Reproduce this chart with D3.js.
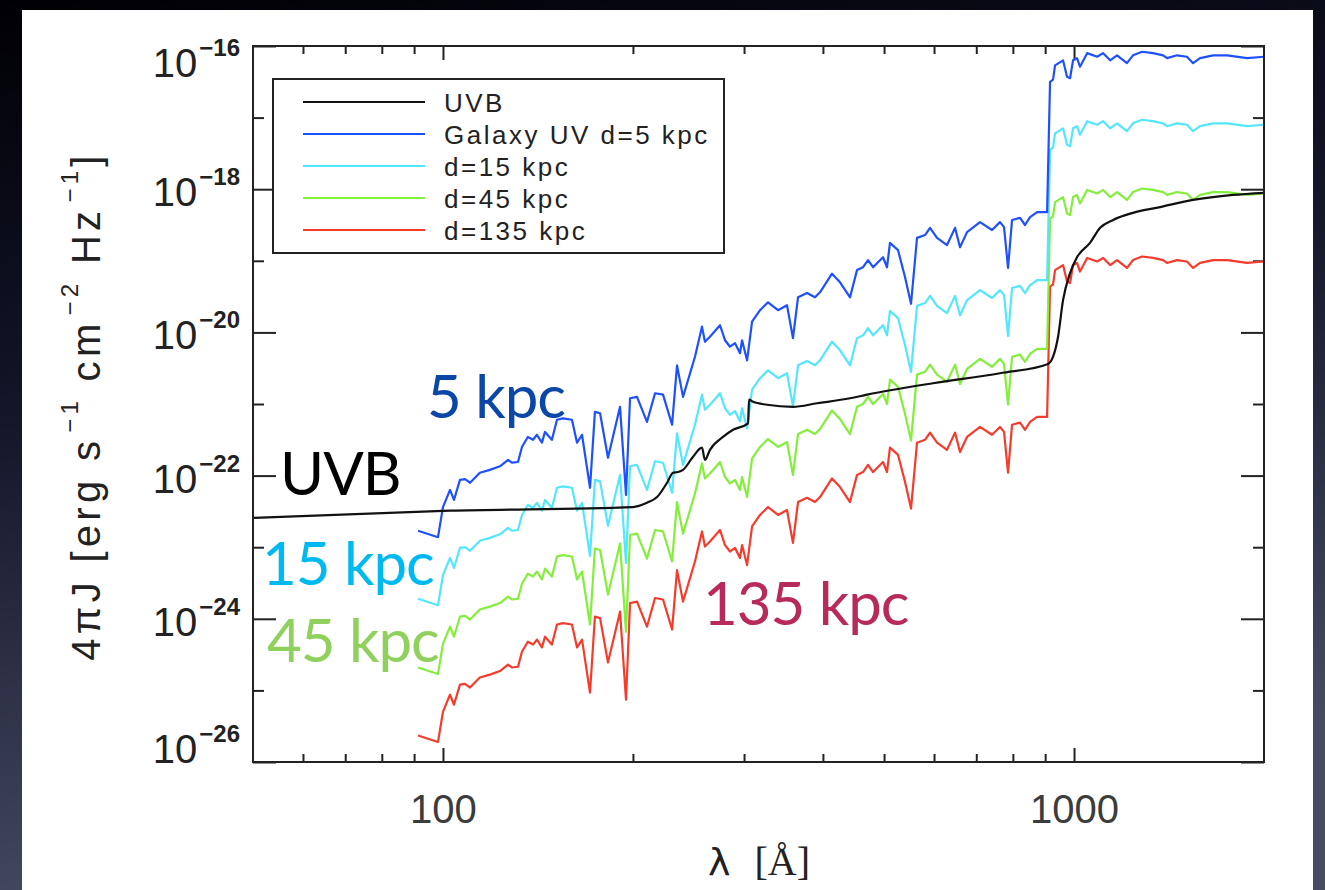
<!DOCTYPE html>
<html>
<head>
<meta charset="utf-8">
<script src="https://cdnjs.cloudflare.com/ajax/libs/d3/7.8.5/d3.min.js"></script>
<style>
  html, body { margin: 0; padding: 0; background: #000; }
  svg { display: block; }
</style>
</head>
<body>
<div id="viz"></div>
<script>
var width = 1325,
    height = 890;

// Wavelengths of the galaxy spectra [Angstrom]
var lambdaGal = [91.3, 98.2, 100.0, 102.6, 104.1, 106.4, 108.4, 110.4, 114.4, 118.7,
    123.1, 126.8, 128.6, 131.5, 133.4, 136.3, 138.9, 140.9, 143.5, 145.1,
    148.8, 151.6, 154.9, 160.1, 163.1, 166.1, 171.0, 174.1, 177.4, 182.6,
    190.8, 195.0, 197.9, 203.0, 210.5, 216.8, 223.2, 230.7, 234.9, 240.1,
    250.8, 257.3, 260.1, 264.9, 274.8, 279.9, 285.0, 290.3, 295.6, 297.8,
    303.3, 308.9, 318.0, 327.4, 339.6, 350.9, 358.6, 365.3, 377.5, 388.6,
    395.8, 413.5, 425.8, 441.6, 453.0, 463.1, 471.6, 480.3, 498.1, 505.4,
    510.9, 526.1, 539.8, 551.7, 563.9, 580.6, 591.3, 606.6, 629.1, 647.8,
    659.7, 676.8, 709.6, 741.3, 763.3, 774.6, 786.0, 797.6, 821.2, 836.3,
    851.8, 873.9, 906.4, 916.2, 926.3, 933.1, 960.7, 974.8, 985.6, 996.4,
    1011, 1022, 1049, 1088, 1112, 1141, 1170, 1213, 1240, 1282,
    1334, 1384, 1404, 1456, 1510, 1544, 1584, 1661, 1748, 1880, 2000];

// log10 of 4piJ for each galaxy distance
var logJ5 = [-22.77, -22.86, -22.44, -22.20, -22.34, -22.06, -22.05, -22.10, -21.96, -21.92,
    -21.87, -21.78, -21.82, -21.81, -21.60, -21.46, -21.50, -21.43, -21.54, -21.39,
    -21.50, -21.22, -21.20, -21.22, -21.54, -21.43, -22.17, -21.11, -21.13, -21.75,
    -21.04, -22.27, -20.92, -20.90, -21.25, -20.85, -20.87, -21.29, -20.46, -20.90,
    -20.34, -19.92, -20.13, -20.06, -19.90, -20.11, -20.20, -20.15, -20.29, -20.11,
    -20.39, -19.85, -19.69, -19.58, -19.69, -19.62, -20.08, -19.51, -19.45, -19.51,
    -19.44, -19.18, -19.30, -19.51, -19.13, -19.09, -18.99, -19.09, -18.95, -19.09,
    -18.75, -18.85, -19.23, -19.60, -18.68, -18.64, -18.54, -18.68, -18.78, -18.54,
    -18.81, -18.60, -18.46, -18.57, -18.46, -18.53, -19.10, -18.43, -18.40, -18.50,
    -18.39, -18.32, -18.32, -16.50, -16.47, -16.27, -16.20, -16.43, -16.45, -16.20,
    -16.17, -16.29, -16.10, -16.15, -16.10, -16.20, -16.13, -16.24, -16.13, -16.08,
    -16.10, -16.13, -16.17, -16.13, -16.15, -16.24, -16.17, -16.13, -16.13, -16.17, -16.15];

var logJ15 = [-23.72, -23.81, -23.39, -23.15, -23.29, -23.01, -23.00, -23.05, -22.91, -22.87,
    -22.82, -22.73, -22.77, -22.76, -22.55, -22.41, -22.45, -22.38, -22.49, -22.34,
    -22.45, -22.17, -22.15, -22.17, -22.49, -22.38, -23.12, -22.06, -22.08, -22.70,
    -21.99, -23.22, -21.87, -21.85, -22.20, -21.80, -21.82, -22.24, -21.41, -21.85,
    -21.29, -20.87, -21.08, -21.01, -20.85, -21.06, -21.15, -21.10, -21.24, -21.06,
    -21.34, -20.80, -20.64, -20.53, -20.64, -20.57, -21.03, -20.46, -20.40, -20.46,
    -20.39, -20.13, -20.25, -20.46, -20.08, -20.04, -19.94, -20.04, -19.90, -20.04,
    -19.70, -19.80, -20.18, -20.55, -19.63, -19.59, -19.49, -19.63, -19.73, -19.49,
    -19.76, -19.55, -19.41, -19.52, -19.41, -19.48, -20.05, -19.38, -19.35, -19.45,
    -19.34, -19.27, -19.27, -17.45, -17.42, -17.22, -17.15, -17.38, -17.40, -17.15,
    -17.12, -17.24, -17.05, -17.10, -17.05, -17.15, -17.08, -17.19, -17.08, -17.03,
    -17.05, -17.08, -17.12, -17.08, -17.10, -17.19, -17.12, -17.08, -17.08, -17.12, -17.10];

var logJ45 = [-24.68, -24.77, -24.35, -24.11, -24.25, -23.97, -23.96, -24.01, -23.87, -23.83,
    -23.78, -23.69, -23.73, -23.72, -23.51, -23.37, -23.41, -23.34, -23.45, -23.30,
    -23.41, -23.13, -23.11, -23.13, -23.45, -23.34, -24.08, -23.02, -23.04, -23.66,
    -22.95, -24.18, -22.83, -22.81, -23.16, -22.76, -22.78, -23.20, -22.37, -22.81,
    -22.25, -21.83, -22.04, -21.97, -21.81, -22.02, -22.11, -22.06, -22.20, -22.02,
    -22.30, -21.76, -21.60, -21.49, -21.60, -21.53, -21.99, -21.42, -21.36, -21.42,
    -21.35, -21.09, -21.21, -21.42, -21.04, -21.00, -20.90, -21.00, -20.86, -21.00,
    -20.66, -20.76, -21.14, -21.51, -20.59, -20.55, -20.45, -20.59, -20.69, -20.45,
    -20.72, -20.51, -20.37, -20.48, -20.37, -20.44, -21.01, -20.34, -20.31, -20.41,
    -20.30, -20.23, -20.23, -18.41, -18.38, -18.18, -18.11, -18.34, -18.36, -18.11,
    -18.08, -18.20, -18.01, -18.06, -18.01, -18.11, -18.04, -18.15, -18.04, -17.99,
    -18.01, -18.04, -18.08, -18.04, -18.06, -18.15, -18.08, -18.04, -18.04, -18.08, -18.06];

var logJ135 = [-25.63, -25.72, -25.30, -25.06, -25.20, -24.92, -24.91, -24.96, -24.82, -24.78,
    -24.73, -24.64, -24.68, -24.67, -24.46, -24.32, -24.36, -24.29, -24.40, -24.25,
    -24.36, -24.08, -24.06, -24.08, -24.40, -24.29, -25.03, -23.97, -23.99, -24.61,
    -23.90, -25.13, -23.78, -23.76, -24.11, -23.71, -23.73, -24.15, -23.32, -23.76,
    -23.20, -22.78, -22.99, -22.92, -22.76, -22.97, -23.06, -23.01, -23.15, -22.97,
    -23.25, -22.71, -22.55, -22.44, -22.55, -22.48, -22.94, -22.37, -22.31, -22.37,
    -22.30, -22.04, -22.16, -22.37, -21.99, -21.95, -21.85, -21.95, -21.81, -21.95,
    -21.61, -21.71, -22.09, -22.46, -21.54, -21.50, -21.40, -21.54, -21.64, -21.40,
    -21.67, -21.46, -21.32, -21.43, -21.32, -21.39, -21.96, -21.29, -21.26, -21.36,
    -21.25, -21.18, -21.18, -19.36, -19.33, -19.13, -19.06, -19.29, -19.31, -19.06,
    -19.03, -19.15, -18.96, -19.01, -18.96, -19.06, -18.99, -19.10, -18.99, -18.94,
    -18.96, -18.99, -19.03, -18.99, -19.01, -19.10, -19.03, -18.99, -18.99, -19.03, -19.01];

// UV background
var lambdaUVB = [50, 102.6, 200, 210.5, 218.4, 226.5, 231.5, 235.7, 240.1, 248.9,
    257.3, 260.1, 264.9, 277.8, 288.2, 304.4, 305.5, 310, 326.2, 358.6,
    391.5, 441.6, 469.9, 597.7, 763.3, 909.7, 926.3, 943.4, 960.7, 985.6,
    1011, 1060, 1100, 1153, 1240, 1369, 1544, 1786, 2000];
var logJUVB = [-22.59, -22.49, -22.44, -22.38, -22.30, -22.10, -21.96, -21.95, -21.92, -21.74,
    -21.61, -21.78, -21.64, -21.46, -21.36, -21.27, -20.94, -20.97, -21.01, -21.04,
    -20.99, -20.92, -20.87, -20.71, -20.57, -20.44, -20.34, -20.06, -19.55, -19.17,
    -18.95, -18.75, -18.54, -18.43, -18.33, -18.25, -18.15, -18.08, -18.05];

var legendLabels = ["UVB", "Galaxy UV d=5 kpc", "d=15 kpc", "d=45 kpc", "d=135 kpc"];
var lineColors = ["#111111", "#1e50ff", "#55e6ff", "#84ee3c", "#f53c2c"];

var xMajor = [100, 1000];
var xMinor = [60, 70, 80, 90, 200, 300, 400, 500, 600, 700, 800, 900];
var yMajor = [1e-16, 1e-18, 1e-20, 1e-22, 1e-24, 1e-26];
var yMinor = [1e-17, 1e-19, 1e-21, 1e-23, 1e-25];
var yExponents = ["\u221216", "\u221218", "\u221220", "\u221222", "\u221224", "\u221226"];

// big slide annotations
var noteTexts = ["5 kpc", "UVB", "15 kpc", "45 kpc", "135 kpc"];
var noteColors = ["#0b47a6", "#000000", "#00b9f1", "#8fd15c", "#b82a5c"];

var plot = {left: 253, right: 1264, top: 46, bottom: 762};

var svg = d3.select("#viz").append("svg")
    .attr("width", width)
    .attr("height", height);

var defs = svg.append("defs");
var grad = defs.append("linearGradient")
    .attr("id", "bg")
    .attr("x1", 0).attr("y1", 0).attr("x2", 0.25).attr("y2", 1);
grad.append("stop").attr("offset", "0%").attr("stop-color", "#000004");
grad.append("stop").attr("offset", "45%").attr("stop-color", "#14162a");
grad.append("stop").attr("offset", "100%").attr("stop-color", "#474c63");

defs.append("clipPath").attr("id", "clip")
    .append("rect")
    .attr("x", plot.left).attr("y", plot.top)
    .attr("width", plot.right - plot.left)
    .attr("height", plot.bottom - plot.top);

svg.append("rect").attr("width", width).attr("height", height).attr("fill", "url(#bg)");
svg.append("rect").attr("x", 22).attr("y", 10).attr("width", 1291).attr("height", 880).attr("fill", "#ffffff");

var x = d3.scaleLog().domain([50, 2000]).range([plot.left, plot.right]);
var y = d3.scaleLog().domain([1e-26, 1e-16]).range([plot.bottom, plot.top]);

// tick marks, drawn inward on all four sides
function ticks(axis, values, size, tx, ty) {
    var g = svg.append("g")
        .attr("transform", "translate(" + tx + "," + ty + ")")
        .attr("color", "#222")
        .call(axis.tickValues(values).tickSize(size).tickFormat(""));
    g.select(".domain").remove();
    g.selectAll("line").attr("stroke-width", 2);
    return g;
}
ticks(d3.axisBottom(x), xMinor, -8, 0, plot.bottom);
ticks(d3.axisBottom(x), xMajor, -14, 0, plot.bottom);
ticks(d3.axisTop(x), xMinor, -8, 0, plot.top);
ticks(d3.axisTop(x), xMajor, -14, 0, plot.top);
ticks(d3.axisLeft(y), yMinor, -11, plot.left, 0);
ticks(d3.axisLeft(y), yMajor, -23, plot.left, 0);
ticks(d3.axisRight(y), yMinor, -11, plot.right, 0);
ticks(d3.axisRight(y), yMajor, -23, plot.right, 0);

// x tick labels
var xl = svg.append("g")
    .attr("transform", "translate(0," + plot.bottom + ")")
    .call(d3.axisBottom(x).tickValues(xMajor).tickSize(0).tickPadding(33).tickFormat(d3.format("d")));
xl.select(".domain").remove();
xl.selectAll("text")
    .attr("font-family", "Liberation Sans, Arial, sans-serif")
    .attr("font-size", 40)
    .attr("fill", "#3c3c3c");

// y tick labels: 10 with superscript exponent
yMajor.forEach(function(v, i) {
    var base = Math.max(77, Math.min(763, y(v) + 17));
    var t = svg.append("text")
        .attr("x", 240).attr("y", base)
        .attr("text-anchor", "end")
        .attr("font-family", "Liberation Sans, Arial, sans-serif")
        .attr("fill", "#222");
    t.append("tspan").attr("font-size", 40).text("10");
    t.append("tspan").attr("font-size", 24).attr("font-weight", "bold")
        .attr("dx", 2).attr("dy", -21).text(yExponents[i]);
});

// axis titles
var xt = svg.append("text")
    .attr("x", 708).attr("y", 875)
    .attr("font-size", 40)
    .attr("fill", "#222");
xt.append("tspan").attr("font-family", "DejaVu Sans, sans-serif").attr("font-size", 38).text("\u03bb");
xt.append("tspan").attr("font-family", "Liberation Serif, serif").attr("dx", 24).text("[\u00c5]");

var yt = svg.append("text")
    .attr("transform", "translate(100," + ((plot.top + plot.bottom) / 2 + 2) + ") rotate(-90)")
    .attr("text-anchor", "middle")
    .attr("font-family", "Liberation Sans, Arial, sans-serif")
    .attr("font-size", 40)
    .attr("letter-spacing", 4.3)
    .attr("fill", "#222");
var ytParts = [["4\u03c0J [erg s", 0], ["\u22121", 1], [" cm", 0], ["\u22122", 1], [" Hz", 0], ["\u22121", 1], ["]", 0]];
var up = false;
ytParts.forEach(function(p) {
    var s = yt.append("tspan").text(p[0]);
    if (p[1] && !up) { s.attr("dy", -22).attr("font-size", 24).attr("dx", 4); up = true; }
    else if (!p[1] && up) { s.attr("dy", 22); up = false; }
    else if (p[1]) { s.attr("font-size", 24); }
});

// spectra
var line = d3.line()
    .x(function(d) { return x(d[0]); })
    .y(function(d) { return y(Math.pow(10, d[1])); });

var curves = svg.append("g").attr("clip-path", "url(#clip)");
var galSeries = [logJ135, logJ45, logJ15, logJ5];
var galColors = [lineColors[4], lineColors[3], lineColors[2], lineColors[1]];
galSeries.forEach(function(vals, i) {
    curves.append("path")
        .datum(lambdaGal.map(function(l, k) { return [l, vals[k]]; }))
        .attr("d", line)
        .attr("fill", "none")
        .attr("stroke", galColors[i])
        .attr("stroke-width", 2.2)
        .attr("stroke-linejoin", "round");
});
curves.append("path")
    .datum(lambdaUVB.map(function(l, k) { return [l, logJUVB[k]]; }))
    .attr("d", line.curve(d3.curveMonotoneX))
    .attr("fill", "none")
    .attr("stroke", lineColors[0])
    .attr("stroke-width", 2.2);

// frame
svg.append("rect")
    .attr("x", plot.left).attr("y", plot.top)
    .attr("width", plot.right - plot.left)
    .attr("height", plot.bottom - plot.top)
    .attr("fill", "none")
    .attr("stroke", "#222")
    .attr("stroke-width", 2);

// legend
var leg = svg.append("g");
leg.append("rect")
    .attr("x", 273).attr("y", 79).attr("width", 451).attr("height", 174)
    .attr("fill", "#fff").attr("stroke", "#222").attr("stroke-width", 2);
legendLabels.forEach(function(lab, i) {
    var ly = 102 + i * 32;
    leg.append("line")
        .attr("x1", 303).attr("x2", 425).attr("y1", ly).attr("y2", ly)
        .attr("stroke", lineColors[i]).attr("stroke-width", 2.2);
    leg.append("text")
        .attr("x", 444).attr("y", ly + 10)
        .attr("font-family", "Liberation Sans, Arial, sans-serif")
        .attr("font-size", 26)
        .attr("letter-spacing", 2.5)
        .attr("fill", "#222")
        .text(lab);
});

// annotations on top of the figure
var notePos = [[427, 418], [280, 495], [262, 585], [267, 662], [703, 625]];
noteTexts.forEach(function(t, i) {
    svg.append("text")
        .attr("x", notePos[i][0]).attr("y", notePos[i][1])
        .attr("font-family", "Lato, sans-serif")
        .attr("font-size", 60)
        .attr("letter-spacing", -1)
        .attr("fill", noteColors[i])
        .text(t);
});
</script>
</body>
</html>
